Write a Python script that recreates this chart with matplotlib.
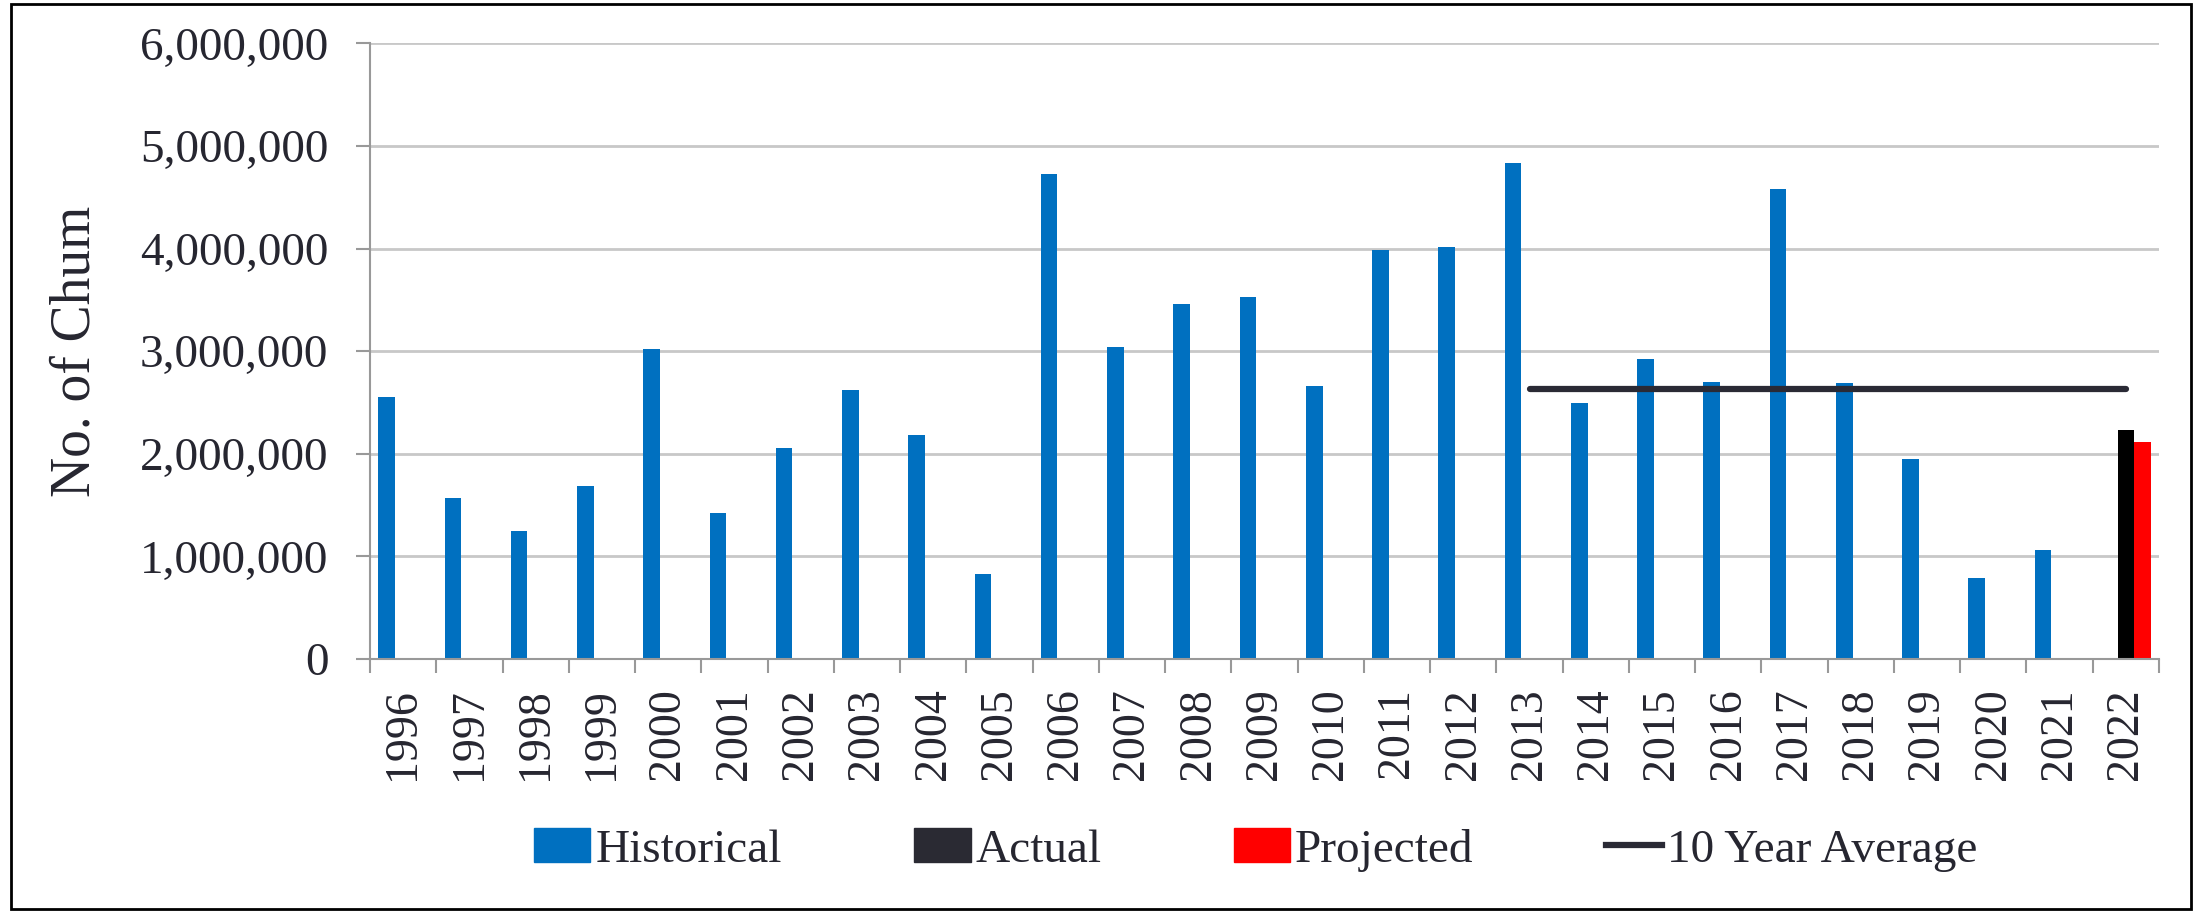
import matplotlib.pyplot as plt
from matplotlib.patches import Patch, Rectangle
from matplotlib.lines import Line2D
from matplotlib.ticker import FuncFormatter

years = [str(y) for y in range(1996, 2023)]
historical = [2550000, 1570000, 1250000, 1690000, 3020000, 1420000, 2060000,
              2620000, 2180000, 830000, 4730000, 3040000, 3460000, 3530000,
              2660000, 3990000, 4020000, 4830000, 2500000, 2920000, 2700000,
              4580000, 2690000, 1950000, 790000, 1060000, None]
actual_2022 = 2230000
projected_2022 = 2120000
avg_years = ["2013", "2022"]
avg_value = 2630000

TEXT = "#262630"
plt.rcParams['font.family'] = ['Liberation Serif', 'DejaVu Serif']
plt.rcParams['text.color'] = TEXT

fig = plt.figure(figsize=(21.99, 9.13), dpi=100)
ax = fig.add_axes([0.1683, 0.2782, 0.9818 - 0.1683, 0.9524 - 0.2782])

x = list(range(len(years)))
w = 0.25
hx = [i - w for i, v in zip(x, historical) if v is not None]
hv = [v for v in historical if v is not None]
ax.bar(hx, hv, width=w, color="#0070C0", zorder=2)
last = years.index("2022")
ax.bar([last], [actual_2022], width=w, color="black", zorder=2)
ax.bar([last + w], [projected_2022], width=w, color="#FF0000", zorder=2)
ax.plot([years.index(avg_years[0]), years.index(avg_years[1])], [avg_value, avg_value],
        color="#2A2A35", lw=4.5, solid_capstyle="round", zorder=3)

ax.set_xlim(-0.5, len(years) - 0.5)
ax.set_ylim(0, 6000000)
ax.set_yticks(range(0, 6000001, 1000000))
ax.yaxis.set_major_formatter(FuncFormatter(lambda v, p: f"{int(v):,}"))
ax.set_xticks(x)
ax.set_xticklabels(years, rotation=90)
ax.set_xticks([i - 0.5 for i in range(len(years) + 1)], minor=True)
ax.tick_params(axis="x", which="major", length=0, pad=21, labelsize=33, labelcolor=TEXT)
ax.tick_params(axis="x", which="minor", length=10, width=1.5, color="#999999", direction="out")
ax.tick_params(axis="y", length=10, width=1.5, color="#999999", pad=20, labelsize=34, labelcolor=TEXT)

ax.grid(axis="y", color="#C8C8C8", lw=2, zorder=0)
for s in ["top", "right"]:
    ax.spines[s].set_visible(False)
for s in ["left", "bottom"]:
    ax.spines[s].set_color("#999999")
    ax.spines[s].set_linewidth(1.5)

ax.set_ylabel("No. of Chum", fontsize=40, color=TEXT)
ax.yaxis.set_label_coords(-0.15, 0.5)

handles = [Patch(color="#0070C0"), Patch(color="#2A2A33"), Patch(color="#FF0000"),
           Line2D([], [], color="#2A2A35", lw=4.5)]
labels = ["Historical", "Actual", "Projected", "10 Year Average"]
fig.legend(handles, labels, loc="center", bbox_to_anchor=(0.571, 0.069), ncol=4,
           frameon=False, fontsize=34, handlelength=1.2, handleheight=0.7,
           handletextpad=0.1, columnspacing=2.8)

fig.patches.append(Rectangle((11 / 2199, 4 / 913), 2180 / 2199, 905 / 913,
                             transform=fig.transFigure, fill=False,
                             edgecolor="black", lw=2))

fig.savefig("out.png", dpi=100)
